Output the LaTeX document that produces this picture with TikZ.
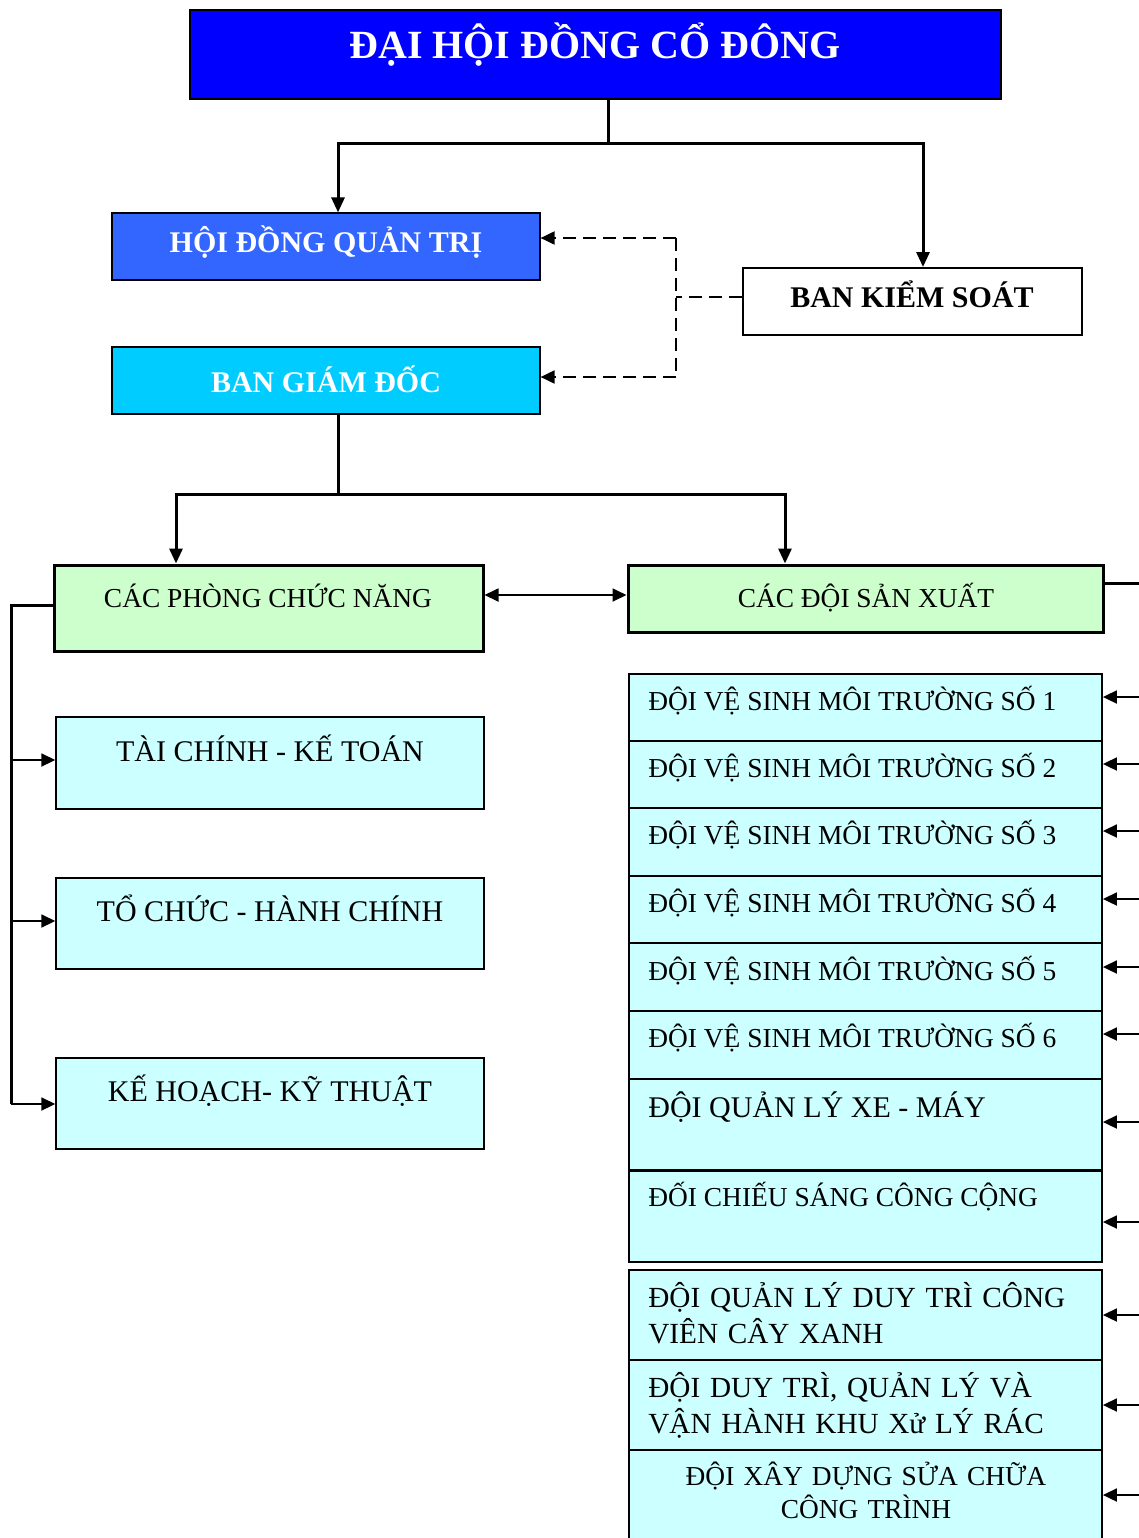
\documentclass[tikz,border=0pt]{standalone}
\usepackage{fontspec}
\setmainfont{Liberation Serif}
\usetikzlibrary{arrows.meta,fit}

\definecolor{xanhdam}{RGB}{0,0,255}
\definecolor{xanhhdqt}{RGB}{51,102,255}
\definecolor{xanhbgd}{RGB}{0,204,255}
\definecolor{xanhla}{RGB}{204,255,204}
\definecolor{xanhnhat}{RGB}{204,255,255}

\tikzset{
  hop/.style={draw=black, line width=1pt, inner sep=0pt},
  hopdam/.style={draw=black, line width=1.5pt, fill=xanhla, inner sep=0pt},
  hopnhat/.style={draw=black, line width=0.9pt, fill=xanhnhat, inner sep=0pt},
  chu/.style={font=\fontsize{13.7}{16.5}\selectfont, inner sep=0pt},
  chulon/.style={font=\fontsize{15}{18}\selectfont, inner sep=0pt},
  chudam/.style={font=\bfseries\fontsize{15}{18}\selectfont, inner sep=0pt},
  duong/.style={line width=1.5pt},
  muiten/.style={-{Triangle[length=7.5pt,width=6.5pt]}, line width=1.5pt},
  muimanh/.style={-{Triangle[length=7pt,width=6.5pt]}, line width=0.9pt},
  haimui/.style={{Triangle[length=7pt,width=6.5pt]}-{Triangle[length=7pt,width=6.5pt]}, line width=0.9pt},
  netdut/.style={line width=1pt, dash pattern=on 6.5pt off 3.5pt},
  dutmui/.style={netdut, -{Triangle[length=7pt,width=6.5pt]}},
}

\begin{document}
\begin{tikzpicture}[x=0.5pt, y=-0.5pt]
  \useasboundingbox (0,0) rectangle (1139,1538);
  \clip (0,0) rectangle (1139,1538);

  % top of the chart
  \node [hop, fill=xanhdam, fit={(190,10) (1001,99)}] (dhdcd) {};
  \node [font=\bfseries\fontsize{20}{24}\selectfont, text=white, inner sep=0pt, anchor=base] (dhdcd-t) at (595,58) {ĐẠI HỘI ĐỒNG CỔ ĐÔNG};
  \node [hop, line width=0.6pt, fill=xanhhdqt, fit={(112,213) (540,280)}] (hdqt) {};
  \node [chudam, text=white, anchor=base] (hdqt-t) at (326,252) {HỘI ĐỒNG QUẢN TRỊ};
  \node [hop, fill=white, fit={(743,268) (1082,335)}] (bks) {};
  \node [chudam, anchor=base] (bks-t) at (912,307) {BAN KIỂM SOÁT};
  \node [hop, line width=0.6pt, fill=xanhbgd, fit={(112,347) (540,414)}] (bgd) {};
  \node [chudam, text=white, anchor=base] (bgd-t) at (326,392) {BAN GIÁM ĐỐC};

  \coordinate (r1) at (608,143);
  \coordinate (r1t) at (338,143);
  \coordinate (r1p) at (923,143);
  \draw [duong] (r1 |- dhdcd.south) -- (r1);
  \draw [muiten] (r1) -- (r1t) -- (r1t |- hdqt.north);
  \draw [muiten] (r1) -- (r1p) -- (r1p |- bks.north);

  \coordinate (r2) at (676,297);
  \coordinate (r2a) at (676,238);
  \coordinate (r2b) at (676,377);
  \draw [netdut] (bks.west |- r2) -- (r2);
  \draw [netdut] (r2a) -- (r2b);
  \draw [dutmui] (r2a) -- (r2a -| hdqt.east);
  \draw [dutmui] (r2b) -- (r2b -| bgd.east);

  % second level
  \node [hopdam, fit={(54,565) (483,651)}] (cpcn) {};
  \node [chu, anchor=base] (cpcn-t) at (268,607) {CÁC PHÒNG CHỨC NĂNG};
  \node [hopdam, fit={(628,565) (1103,632)}] (cdsx) {};
  \node [chu, anchor=base] (cdsx-t) at (866,607) {CÁC ĐỘI SẢN XUẤT};

  \coordinate (r3) at (338,494);
  \coordinate (r3t) at (176,494);
  \coordinate (r3p) at (785,494);
  \draw [duong] (r3 |- bgd.south) -- (r3);
  \draw [muiten] (r3) -- (r3t) -- (r3t |- cpcn.north);
  \draw [muiten] (r3) -- (r3p) -- (r3p |- cdsx.north);
  \coordinate (r4) at (555,595);
  \draw [haimui] (r4 -| cpcn.east) -- (r4 -| cdsx.west);

  % phong ban
  \node [hopnhat, line width=0.7pt, fit={(56,717) (484,809)}] (tckt) {};
  \node [chulon, anchor=base] (tckt-t) at (270,761) {TÀI CHÍNH - KẾ TOÁN};
  \node [hopnhat, line width=0.7pt, fit={(56,878) (484,969)}] (tchc) {};
  \node [chulon, anchor=base] (tchc-t) at (270,921) {TỔ CHỨC - HÀNH CHÍNH};
  \node [hopnhat, line width=0.7pt, fit={(56,1058) (484,1149)}] (khkt) {};
  \node [chulon, anchor=base] (khkt-t) at (270,1101) {KẾ HOẠCH- KỸ THUẬT};

  \coordinate (r5) at (11,605);
  \coordinate (r5d) at (11,1104);
  \draw [duong] (cpcn.west |- r5) -- (r5) -- (r5d);
  \foreach \n/\y in {tckt/760, tchc/921, khkt/1104} {
    \coordinate (l-\n) at (11,\y);
    \draw [muimanh] (l-\n) -- (l-\n -| \n.west);
  }

  % doi san xuat
  \foreach \i/\tren/\duoi/\day in {1/674/741/710, 2/741/808/777, 3/808/876/844, 4/876/943/912, 5/943/1011/980, 6/1011/1079/1047} {
    \node [hopnhat, fit={(629,\tren) (1102,\duoi)}] (t\i) {};
    \node [chu, anchor=base west] (t\i-t) at (648,\day) {ĐỘI VỆ SINH MÔI TRƯỜNG SỐ \i};
  }
  \node [hopnhat, fit={(629,1079) (1102,1170)}] (qlxm) {};
  \node [chulon, anchor=base west] (qlxm-t) at (648,1117) {ĐỘI QUẢN LÝ XE - MÁY};
  \node [hopnhat, fit={(629,1171) (1102,1262)}] (cscc) {};
  \node [chu, anchor=base west] (cscc-t) at (648,1206) {ĐỐI CHIẾU SÁNG CÔNG CỘNG};
  \node [hopnhat, fit={(629,1270) (1102,1360)}] (qldt) {};
  \node [chulon, font=\fontsize{14.6}{18}\selectfont, anchor=base west, text width=220pt, align=left] (qldt-t) at (648,1307) {ĐỘI QUẢN LÝ DUY TRÌ CÔNG\\VIÊN CÂY XANH};
  \node [hopnhat, fit={(629,1360) (1102,1450)}] (dtql) {};
  \node [chulon, font=\fontsize{14.6}{18}\selectfont, anchor=base west, text width=220pt, align=left] (dtql-t) at (648,1397) {ĐỘI DUY TRÌ, QUẢN LÝ VÀ\\VẬN HÀNH KHU Xử LÝ RÁC};
  \node [hopnhat, fit={(629,1450) (1102,1548)}] (xdsc) {};
  \node [chu, anchor=base, text width=230pt, align=center] (xdsc-t) at (866,1485) {ĐỘI XÂY DỰNG SỬA CHỮA\\CÔNG TRÌNH};

  \coordinate (r6) at (1150,583);
  \coordinate (r6d) at (1150,1545);
  \draw [duong] (cdsx.east |- r6) -- (r6) -- (r6d);
  \foreach \n/\y in {t1/697, t2/764, t3/831, t4/899, t5/967, t6/1034, qlxm/1122, cscc/1222, qldt/1315, dtql/1405, xdsc/1495} {
    \coordinate (p-\n) at (1150,\y);
    \draw [muimanh] (p-\n) -- (p-\n -| \n.east);
  }
\end{tikzpicture}
\end{document}
